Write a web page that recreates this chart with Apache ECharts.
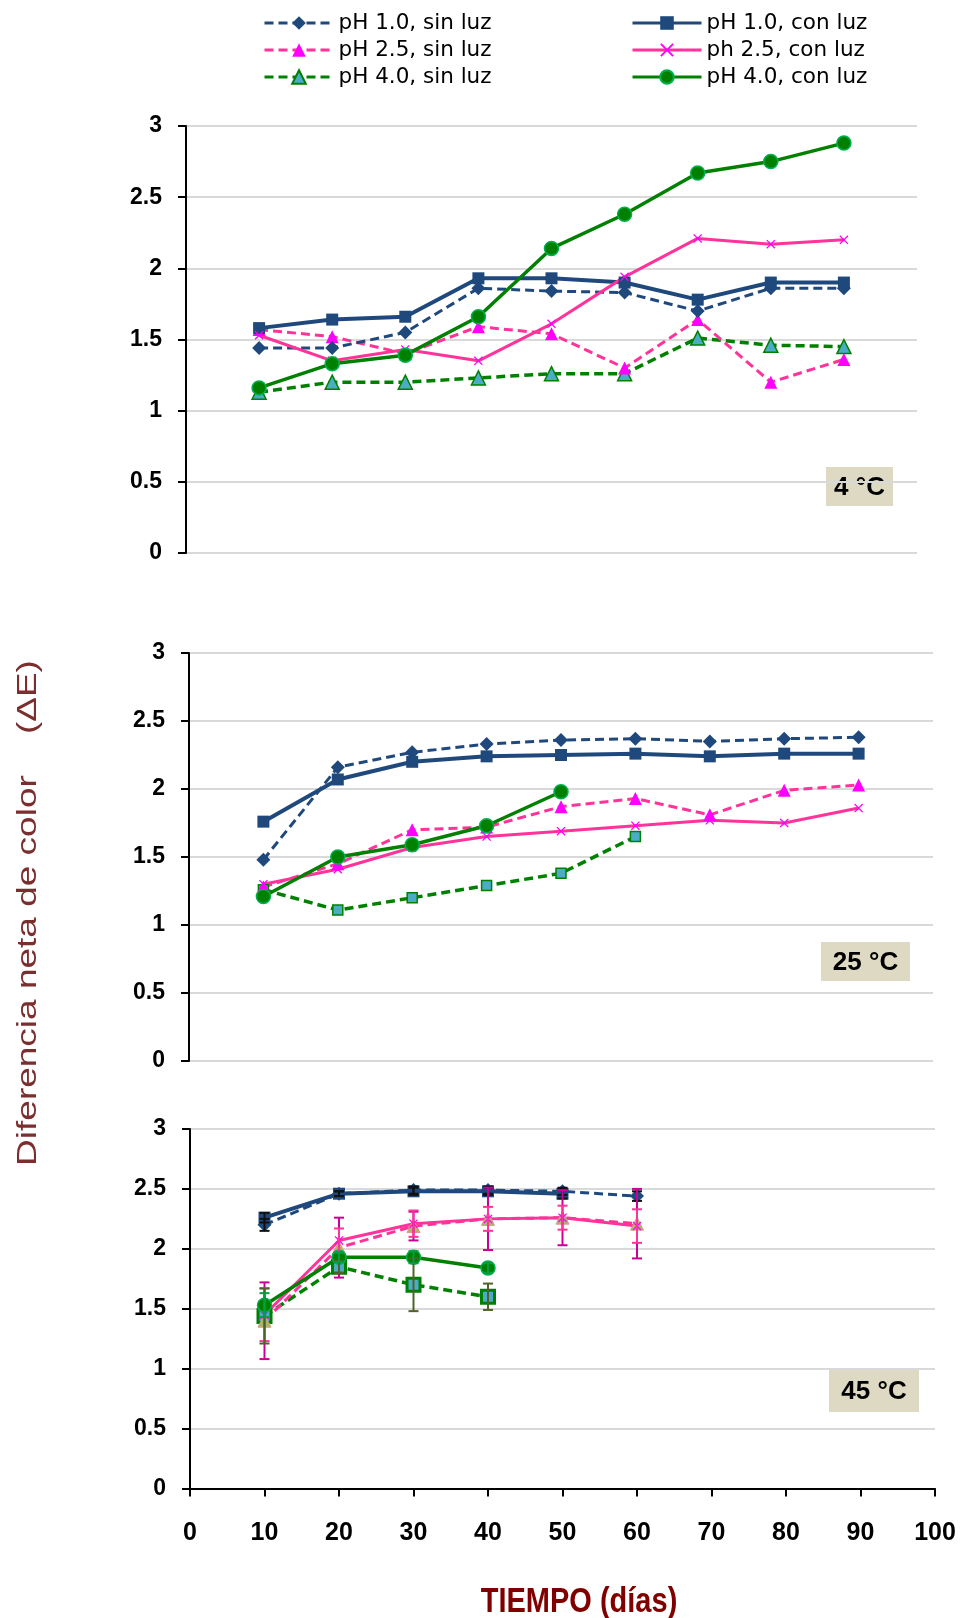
<!DOCTYPE html>
<html>
<head>
<meta charset="utf-8">
<script src="https://cdn.jsdelivr.net/npm/echarts@6/dist/echarts.min.js"></script>
<style>
  html, body { margin: 0; padding: 0; background: #ffffff; }
  #chart { width: 960px; height: 1618px; }
</style>
</head>
<body>
<div id="chart"></div>
<script>
// Storage time in days (shared x values)
const days = [10, 20, 30, 40, 50, 60, 70, 80, 90];

// Series names (legend order: left column "sin luz", right column "con luz")
const namesSin = ['pH 1.0, sin luz', 'pH 2.5, sin luz', 'pH 4.0, sin luz'];
const namesCon = ['pH 1.0, con luz', 'ph 2.5, con luz', 'pH 4.0, con luz'];

// Temperature tags of the three panels
const panelTags = ['4 °C', '25 °C', '45 °C'];

// ΔE at 4 °C
const t4_pH10_sin = [1.44, 1.44, 1.55, 1.86, 1.84, 1.83, 1.70, 1.86, 1.86];
const t4_pH25_sin = [1.57, 1.52, 1.40, 1.59, 1.54, 1.30, 1.64, 1.20, 1.36];
const t4_pH40_sin = [1.13, 1.20, 1.20, 1.23, 1.26, 1.26, 1.51, 1.46, 1.45];
const t4_pH10_con = [1.58, 1.64, 1.66, 1.93, 1.93, 1.90, 1.78, 1.90, 1.90];
const t4_pH25_con = [1.53, 1.35, 1.43, 1.35, 1.61, 1.94, 2.21, 2.17, 2.20];
const t4_pH40_con = [1.16, 1.33, 1.39, 1.66, 2.14, 2.38, 2.67, 2.75, 2.88];

// ΔE at 25 °C
const t25_pH10_sin = [1.48, 2.16, 2.27, 2.33, 2.36, 2.37, 2.35, 2.37, 2.38];
const t25_pH25_sin = [1.28, 1.45, 1.70, 1.72, 1.87, 1.93, 1.81, 1.99, 2.03];
const t25_pH40_sin = [1.26, 1.11, 1.20, 1.29, 1.38, 1.65];
const t25_pH10_con = [1.76, 2.07, 2.20, 2.24, 2.25, 2.26, 2.24, 2.26, 2.26];
const t25_pH25_con = [1.30, 1.41, 1.57, 1.65, 1.69, 1.73, 1.77, 1.75, 1.86];
const t25_pH40_con = [1.21, 1.50, 1.59, 1.73, 1.98];

// ΔE at 45 °C
const t45_pH10_sin = [2.20, 2.46, 2.49, 2.49, 2.48, 2.44];
const t45_pH25_sin = [1.40, 2.01, 2.19, 2.25, 2.26, 2.21];
const t45_pH40_sin = [1.44, 1.85, 1.70, 1.60];
const t45_pH10_con = [2.26, 2.46, 2.48, 2.48, 2.46];
const t45_pH25_con = [1.45, 2.07, 2.21, 2.25, 2.26, 2.19];
const t45_pH40_con = [1.53, 1.93, 1.93, 1.84];

// ± deviation at 45 °C
const e45_pH10_sin = [0.05, 0.02, 0.03, 0.03, 0.03, 0.04];
const e45_pH25_sin = [0.32, 0.25, 0.12, 0.26, 0.23, 0.29];
const e45_pH40_sin = [0.23, 0.05, 0.22, 0.11];
const e45_pH10_con = [0.04, 0.02, 0.03, 0.03, 0.04];
const e45_pH25_con = [0.22, 0.10, 0.11, 0.10, 0.10, 0.14];
const e45_pH40_con = [0.10, 0.04, 0.05, 0.04];

// ---- styling ----
const NAVY = '#1F497D', PINK = '#FF3399', MAGENTA = '#FF00FF', GREEN = '#008000', TEAL = '#4BACC6';
const DASH = [9, 5];

const look = {
  'pH 1.0, sin luz': { line: NAVY, dash: true, width: 3, symbol: 'diamond', size: 14, fill: NAVY, border: NAVY, bw: 0 },
  'pH 2.5, sin luz': { line: PINK, dash: true, width: 3, symbol: 'triangle', size: 13, fill: MAGENTA, border: MAGENTA, bw: 0 },
  'pH 4.0, sin luz': { line: GREEN, dash: true, width: 3.5, symbol: 'triangle', size: 14, fill: TEAL, border: GREEN, bw: 1.5 },
  'pH 1.0, con luz': { line: NAVY, dash: false, width: 4, symbol: 'rect', size: 12, fill: NAVY, border: NAVY, bw: 0 },
  'ph 2.5, con luz': { line: PINK, dash: false, width: 3, symbol: 'path://M0,1 L1,0 L5,4 L9,0 L10,1 L6,5 L10,9 L9,10 L5,6 L1,10 L0,9 L4,5 Z', size: 9, fill: MAGENTA, border: MAGENTA, bw: 0 },
  'pH 4.0, con luz': { line: GREEN, dash: false, width: 3.5, symbol: 'circle', size: 14, fill: GREEN, border: '#00B050', bw: 1.5 }
};

function lineSeries(name, vals, gi, over) {
  const s = Object.assign({}, look[name], over || {});
  return {
    type: 'line', name: name,
    xAxisIndex: gi, yAxisIndex: gi,
    data: vals.map((v, i) => [days[i], v]),
    symbol: s.symbol, symbolSize: s.size, showAllSymbol: true,
    lineStyle: { color: s.line, width: s.width, type: s.dash ? DASH : 'solid' },
    itemStyle: { color: s.fill, borderColor: s.border, borderWidth: s.bw },
    emphasis: { disabled: true },
    animation: false, z: 2
  };
}

function errorSeries(name, vals, errs, color, gi) {
  return {
    type: 'custom', name: name,
    xAxisIndex: gi, yAxisIndex: gi,
    data: vals.map((v, i) => [days[i], v - errs[i], v + errs[i]]),
    encode: { x: 0, y: [1, 2] },
    z: 3, animation: false, silent: true,
    renderItem: function (params, api) {
      const lo = api.coord([api.value(0), api.value(1)]);
      const hi = api.coord([api.value(0), api.value(2)]);
      const w = 5;
      const st = { stroke: color, lineWidth: 2 };
      return {
        type: 'group',
        children: [
          { type: 'line', shape: { x1: lo[0], y1: lo[1], x2: hi[0], y2: hi[1] }, style: st },
          { type: 'line', shape: { x1: lo[0] - w, y1: lo[1], x2: lo[0] + w, y2: lo[1] }, style: st },
          { type: 'line', shape: { x1: hi[0] - w, y1: hi[1], x2: hi[0] + w, y2: hi[1] }, style: st }
        ]
      };
    }
  };
}

// ---- layout of the three panels ----
const grids = [
  { left: 186, top: 126, width: 731, height: 427 },
  { left: 189, top: 653, width: 744, height: 408 },
  { left: 190, top: 1129, width: 745, height: 359.5 }
];

const yAxes = grids.map((g, i) => ({
  type: 'value', gridIndex: i, min: 0, max: 3, interval: 0.5,
  axisLine: { show: true, lineStyle: { color: '#000', width: 2 } },
  axisTick: { show: true, inside: false, length: 8, lineStyle: { color: '#000', width: 2 } },
  axisLabel: { show: true, margin: 24, color: '#000', fontFamily: 'Liberation Sans', fontWeight: 'bold', fontSize: 23 },
  splitLine: { show: true, lineStyle: { color: '#D9D9D9', width: 2 } }
}));

const xAxes = grids.map((g, i) => ({
  type: 'value', gridIndex: i, min: 0, max: 100, interval: 10,
  show: i === 2,
  axisLine: { show: true, onZero: false, lineStyle: { color: '#000', width: 2 } },
  axisTick: { show: true, inside: false, length: 8, lineStyle: { color: '#000', width: 2 } },
  axisLabel: { show: true, margin: 32, color: '#000', fontFamily: 'Liberation Sans', fontWeight: 'bold', fontSize: 25, showMinLabel: true, showMaxLabel: true },
  splitLine: { show: false }
}));

// panel-specific markers
const p2Sin40 = { symbol: 'rect', size: 10, fill: TEAL, border: GREEN, bw: 1.5 };
const p3Sin40 = { symbol: 'rect', size: 13, fill: TEAL, border: GREEN, bw: 3 };
const p3Sin25 = { fill: '#A8B868', border: '#D89A8A', bw: 1 };
const p3Pinks = { fill: MAGENTA };

const series = [
  // 4 °C
  lineSeries('pH 4.0, sin luz', t4_pH40_sin, 0),
  lineSeries('pH 2.5, sin luz', t4_pH25_sin, 0),
  lineSeries('pH 1.0, sin luz', t4_pH10_sin, 0),
  lineSeries('pH 1.0, con luz', t4_pH10_con, 0),
  lineSeries('ph 2.5, con luz', t4_pH25_con, 0),
  lineSeries('pH 4.0, con luz', t4_pH40_con, 0),
  // 25 °C
  lineSeries('pH 4.0, sin luz', t25_pH40_sin, 1, p2Sin40),
  lineSeries('pH 2.5, sin luz', t25_pH25_sin, 1),
  lineSeries('pH 1.0, sin luz', t25_pH10_sin, 1),
  lineSeries('pH 1.0, con luz', t25_pH10_con, 1),
  lineSeries('ph 2.5, con luz', t25_pH25_con, 1),
  lineSeries('pH 4.0, con luz', t25_pH40_con, 1),
  // 45 °C
  lineSeries('pH 4.0, sin luz', t45_pH40_sin, 2, p3Sin40),
  lineSeries('pH 2.5, sin luz', t45_pH25_sin, 2, p3Sin25),
  lineSeries('pH 1.0, sin luz', t45_pH10_sin, 2),
  lineSeries('pH 1.0, con luz', t45_pH10_con, 2),
  lineSeries('ph 2.5, con luz', t45_pH25_con, 2, p3Pinks),
  lineSeries('pH 4.0, con luz', t45_pH40_con, 2),
  // deviations at 45 °C
  errorSeries('pH 1.0, sin luz', t45_pH10_sin, e45_pH10_sin, '#111111', 2),
  errorSeries('pH 1.0, con luz', t45_pH10_con, e45_pH10_con, '#111111', 2),
  errorSeries('pH 2.5, sin luz', t45_pH25_sin, e45_pH25_sin, '#CC0099', 2),
  errorSeries('ph 2.5, con luz', t45_pH25_con, e45_pH25_con, PINK, 2),
  errorSeries('pH 4.0, sin luz', t45_pH40_sin, e45_pH40_sin, '#4F6228', 2),
  errorSeries('pH 4.0, con luz', t45_pH40_con, e45_pH40_con, '#00A040', 2)
];

const legendBase = {
  orient: 'vertical', top: 12, padding: 0,
  itemWidth: 69, itemHeight: 17, itemGap: 5, itemTextGap: 7,
  selectedMode: false,
  textStyle: { fontFamily: 'DejaVu Sans', fontSize: 21.5, color: '#000' },
  lineStyle: { width: 3 }
};

// temperature tags, anchored inside each panel
const tagBoxes = [
  { x: 826, y: 467, w: 67, h: 39 },
  { x: 821, y: 942, w: 89, h: 39 },
  { x: 829, y: 1370, w: 90, h: 42 }
];
const tagGraphics = [];
tagBoxes.forEach((b, i) => {
  tagGraphics.push({ type: 'rect', shape: { x: b.x, y: b.y, width: b.w, height: b.h }, style: { fill: '#DDD9C3' }, silent: true });
  tagGraphics.push({
    type: 'text', x: b.x + b.w / 2, y: b.y + b.h / 2 + 1, silent: true,
    style: { text: panelTags[i], fill: '#000', fontFamily: 'Liberation Sans', fontWeight: 'bold', fontSize: 26,
             textAlign: 'center', textVerticalAlign: 'middle', align: 'center', verticalAlign: 'middle' }
  });
});

const option = {
  backgroundColor: '#ffffff',
  animation: false,
  grid: grids,
  xAxis: xAxes,
  yAxis: yAxes,
  legend: [
    Object.assign({}, legendBase, { left: 263, data: namesSin }),
    Object.assign({}, legendBase, { left: 631, data: namesCon })
  ],
  graphic: [
    {
      type: 'text', x: 29, y: 913, rotation: Math.PI / 2, scaleX: 1.37, silent: true,
      style: { text: 'Diferencia neta de color    (ΔE)', fill: '#7B2E2E', fontFamily: 'Liberation Sans', fontSize: 27,
               textAlign: 'center', textVerticalAlign: 'middle', align: 'center', verticalAlign: 'middle' }
    },
    {
      type: 'text', x: 579, y: 1602, scaleY: 1.22, silent: true,
      style: { text: 'TIEMPO (días)', fill: '#800000', fontFamily: 'Liberation Sans', fontWeight: 'bold', fontSize: 29,
               textAlign: 'center', textVerticalAlign: 'middle', align: 'center', verticalAlign: 'middle' }
    }
  ].concat(tagGraphics),
  series: series
};

const chart = echarts.init(document.getElementById('chart'), null, { renderer: 'canvas' });
chart.setOption(option);
</script>
</body>
</html>
